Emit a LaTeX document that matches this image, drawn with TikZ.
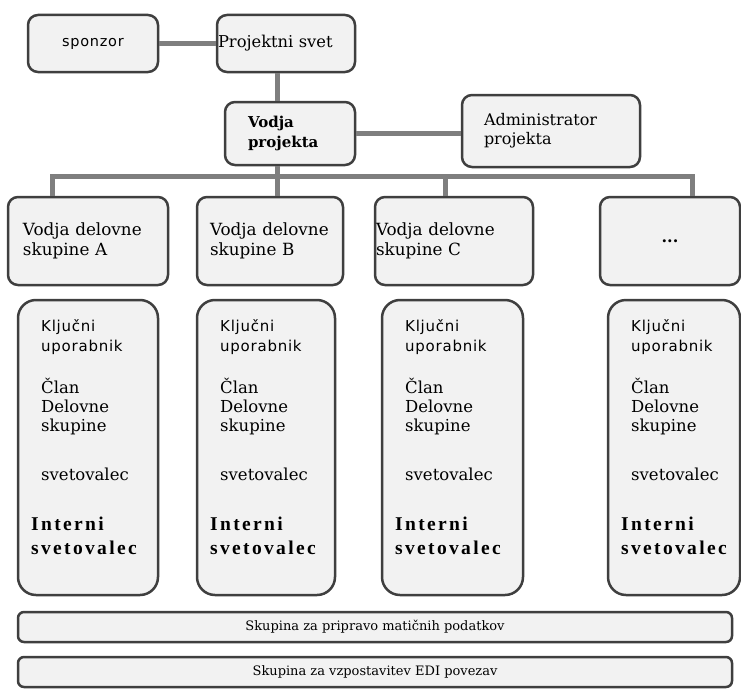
\documentclass[tikz,border=0pt]{standalone}
\usepackage{fontspec}
\setmainfont{DejaVu Serif}
\newfontfamily\serf{DejaVu Serif}
\newfontfamily\sansf{DejaVu Sans}[LetterSpace=5]
\newfontfamily\timesb{Liberation Serif}[LetterSpace=12]
\begin{document}
\definecolor{fillc}{HTML}{F2F2F2}
\definecolor{boxc}{HTML}{3F3F3F}
\definecolor{connc}{HTML}{7F7F7F}
\begin{tikzpicture}[x=1pt,y=-1pt,
  box/.style={draw=boxc, line width=2.5pt, fill=fillc, rounded corners=10pt, inner ysep=0pt},
  col/.style={draw=boxc, line width=2.5pt, fill=fillc, rounded corners=18pt, minimum height=295pt, minimum width=#1, inner sep=0pt},
  bar/.style={draw=boxc, line width=2.5pt, fill=fillc, rounded corners=6pt, minimum height=30pt, minimum width=714pt, inner sep=0pt, font=\serf\fontsize{13}{15}\selectfont},
  conn/.style={draw=connc, line width=5pt},
  rowt/.style={font=\serf\fontsize{16.8}{20}\selectfont, align=left},
  sanst/.style={font=\sansf\fontsize{15}{18}\selectfont, anchor=base west, inner sep=0pt},
  sert/.style={font=\serf\fontsize{16.5}{18}\selectfont, anchor=base west, inner sep=0pt},
  boldt/.style={font=\timesb\bfseries\fontsize{19.5}{22}\selectfont, anchor=base west, inner sep=0pt},
]
\useasboundingbox (0,0) rectangle (741,693);

% top level
\node[box, minimum width=130pt, minimum height=57pt, font=\sansf\fontsize{14.5}{18}\selectfont] (spons) at (93,43.5) {sponzor};
\node[box, minimum height=57pt, inner xsep=1pt, text width=136pt, align=left, font=\serf\fontsize{16.3}{18}\selectfont] (pv) at (286,43.5) {Projektni svet};
\node[box, minimum height=63pt, inner xsep=23pt, text width=84pt, align=left, font=\serf\bfseries\fontsize{15}{20}\selectfont] (vp) at (290,133.5) {Vodja\\projekta};
\node[box, minimum height=72pt, inner xsep=22pt, text width=134pt, align=left, font=\serf\fontsize{16}{19}\selectfont] (adm) at (551,131) {Administrator\\projekta\\[6pt]};

% group leaders
\node[box, rowt, minimum height=88pt, inner xsep=15pt, text width=130pt] (A) at (88,241) {Vodja delovne\\skupine A};
\node[box, rowt, minimum height=88pt, inner xsep=13pt, text width=120pt] (B) at (270,241) {Vodja delovne\\skupine B};
\node[box, rowt, minimum height=88pt, inner xsep=1pt, text width=156pt] (C) at (454,241) {Vodja delovne\\skupine C};
\node[box, minimum height=88pt, minimum width=140pt, font=\serf\bfseries\fontsize{16}{20}\selectfont] (D) at (670,241) {...};

% connectors
\coordinate (sp) at (277,176);
\coordinate (dA) at (52,176);
\coordinate (dC) at (445,176);
\coordinate (dD) at (692,176);
\draw[conn] (spons.east) -- (pv.west |- spons.east);
\draw[conn] (pv.south -| sp) -- (vp.north -| sp);
\draw[conn] (vp.east) -- (adm.west |- vp.east);
\draw[conn] (vp.south -| sp) -- (B.north -| sp);
\draw[conn] (dA |- A.north) -- (dA) -- (dD) -- (dD |- D.north);
\draw[conn] (dC) -- (dC |- C.north);

% columns
\node[col=140pt] (col1) at (88,447.5) {};
\node[col=138pt] (col2) at (266,447.5) {};
\node[col=141pt] (col3) at (452.5,447.5) {};
\node[col=132pt] (col4) at (674,447.5) {};
\foreach \i/\x in {1/18,2/197,3/382,4/608}{
  \node[sanst] (kl\i) at (\x+23,331) {Ključni};
  \node[sanst] (up\i) at (\x+23,351) {uporabnik};
  \node[sert] (cl\i) at (\x+23,393) {Član};
  \node[sert] (de\i) at (\x+23,412) {Delovne};
  \node[sert] (sk\i) at (\x+23,431) {skupine};
  \node[sert] (sv\i) at (\x+23,480) {svetovalec};
  \node[boldt] (in\i) at (\x+13,530) {Interni};
  \node[boldt] (is\i) at (\x+13,554) {svetovalec};
}

% bottom bars
\node[bar] (bar1) at (375,627) {Skupina za pripravo matičnih podatkov};
\node[bar] (bar2) at (375,672) {Skupina za vzpostavitev EDI povezav};
\end{tikzpicture}
\end{document}
